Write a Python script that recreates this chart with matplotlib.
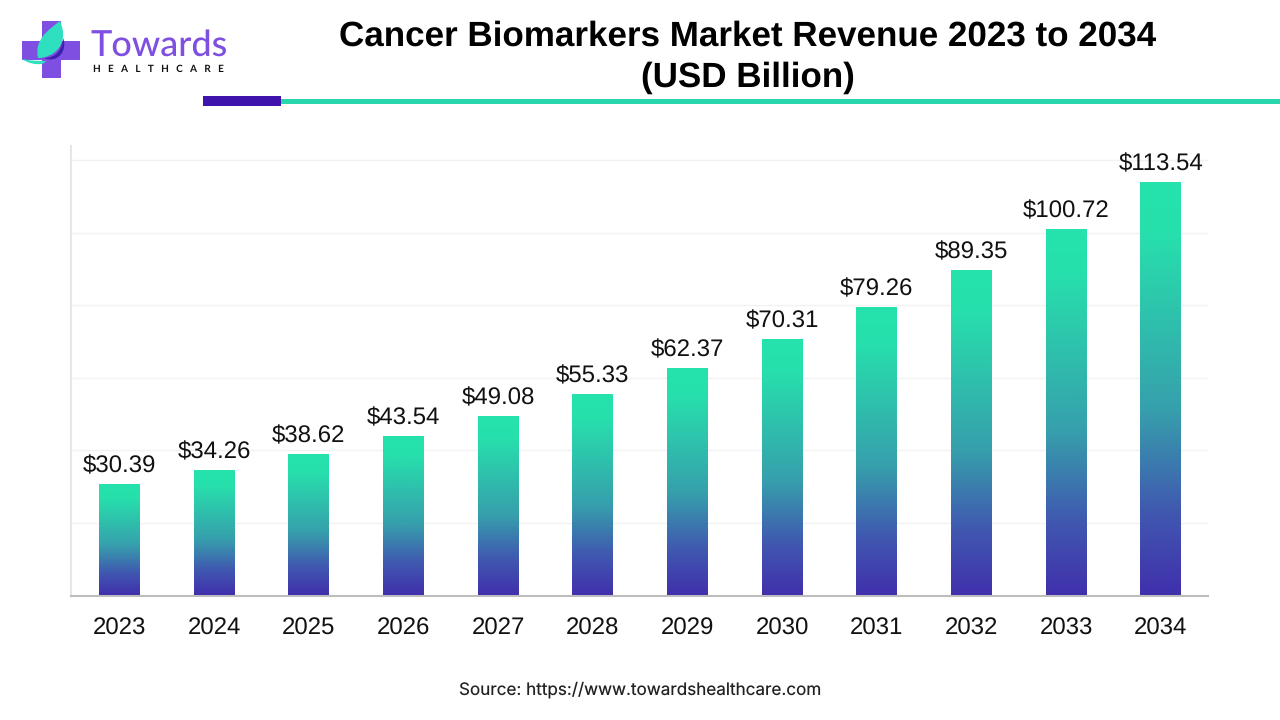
import numpy as np
import matplotlib
matplotlib.use("Agg")
from matplotlib import pyplot as plt
from matplotlib.colors import LinearSegmentedColormap
from matplotlib.patches import Rectangle, PathPatch
from matplotlib.path import Path

years = ["2023", "2024", "2025", "2026", "2027", "2028",
         "2029", "2030", "2031", "2032", "2033", "2034"]
revenue = [30.39, 34.26, 38.62, 43.54, 49.08, 55.33,
           62.37, 70.31, 79.26, 89.35, 100.72, 113.54]
grid_values = [20, 40, 60, 80, 100, 120]

W, H = 1280, 720
plt.rcParams["font.family"] = ["Liberation Sans", "DejaVu Sans"]
plt.rcParams["text.hinting"] = "none"
plt.rcParams["text.hinting_factor"] = 1
fig = plt.figure(figsize=(W / 100, H / 100), dpi=100, facecolor="white")

#%% page layer in pixel coordinates (header, logo)
page = fig.add_axes([0, 0, 1, 1])
page.set_xlim(0, W)
page.set_ylim(H, 0)
page.axis("off")

page.text(748, 36.5, "Cancer Biomarkers Market Revenue 2023 to 2034", ha="center", va="center",
          fontsize=24.95, fontweight="bold", color="black")
page.text(748, 78, "(USD Billion)", ha="center", va="center",
          fontsize=24.95, fontweight="bold", color="black")

page.add_patch(Rectangle((281, 99), W - 281, 5, color="#2AD6AE", lw=0))
page.add_patch(Rectangle((203, 96), 78, 10, color="#3F14AC", lw=0))

# logo
purple = "#7E4FE0"
page.add_patch(Rectangle((42, 21), 19, 57, color=purple, lw=0))
page.add_patch(Rectangle((22, 41), 58, 19, color=purple, lw=0))
shadow = Path([(44, 58), (56, 58), (62, 50), (63, 38), (68, 50), (58, 64), (44, 58)],
              [Path.MOVETO, Path.CURVE4, Path.CURVE4, Path.CURVE4, Path.CURVE4, Path.CURVE4, Path.CURVE4])
page.add_patch(PathPatch(shadow, facecolor="#3F1FB0", edgecolor="none"))
leaf = Path([(60, 21), (48, 30), (34, 40), (38, 58), (54, 58), (70, 44), (60, 21)],
            [Path.MOVETO, Path.CURVE4, Path.CURVE4, Path.CURVE4, Path.CURVE4, Path.CURVE4, Path.CURVE4])
page.add_patch(PathPatch(leaf, facecolor="#2FE0C0", edgecolor="none"))
swoosh = Path([(22, 59), (32, 61), (40, 61), (46, 61), (44, 66), (30, 65), (22, 59)],
              [Path.MOVETO, Path.CURVE4, Path.CURVE4, Path.CURVE4, Path.CURVE4, Path.CURVE4, Path.CURVE4])
page.add_patch(PathPatch(swoosh, facecolor="#2FE0C0", edgecolor="none"))
page.text(90, 46, "Towards", ha="left", va="center", fontsize=26, color=purple, family="Lato",
          fontweight="medium")
page.text(93, 69, "H   E   A   L   T   H   C   A   R   E", ha="left", va="center", fontsize=7.4,
          fontweight="bold", color="#111111", family="Lato")

page.text(640, 689.5, "Source: https://www.towardshealthcare.com", ha="center", va="center",
          fontsize=12.3, color="#222222", family="Inter")

#%% chart
left, right, top, base = 71, 1208, 146, 595.5
ax = fig.add_axes([left / W, 1 - base / H, (right - left) / W, (base - top) / H])
ax.patch.set_alpha(0)
x_lim = (-0.5125, 11.5)
y_lim = (0, (base - top) / 3.63)
ax.set_xlim(*x_lim)
ax.set_ylim(*y_lim)

cmap = LinearSegmentedColormap.from_list(
    "bars", [(0, "#25E2AB"), (0.12, "#27E0AC"), (0.55, "#36A0AC"), (0.8, "#4058B0"), (1, "#4030AC")])
grad = np.linspace(0, 1, 256).reshape(-1, 1)
bar_w = 0.432
for i, v in enumerate(revenue):
    ax.imshow(grad, cmap=cmap, aspect="auto", origin="upper", zorder=3,
              extent=(i - bar_w / 2, i + bar_w / 2, 0, v))
    ax.text(i, v + 5.2, "$%.2f" % v, ha="center", va="center", fontsize=17, color="#111111", zorder=4)
ax.set_xlim(*x_lim)
ax.set_ylim(*y_lim)

ax.set_yticks(grid_values)
ax.yaxis.grid(True, color="#F2F2F2", lw=1)
ax.set_axisbelow(True)
ax.tick_params(axis="y", length=0, labelleft=False)
ax.set_xticks(range(len(years)))
ax.set_xticklabels(years, fontsize=17, color="#111111")
ax.tick_params(axis="x", length=0, pad=15.5)
for side in ["top", "right"]:
    ax.spines[side].set_visible(False)
ax.spines["left"].set_color("#E6E6E6")
ax.spines["left"].set_linewidth(1.5)
ax.spines["bottom"].set_color("#BDBDBD")
ax.spines["bottom"].set_linewidth(1.5)

fig.savefig("out.png", dpi=100)
